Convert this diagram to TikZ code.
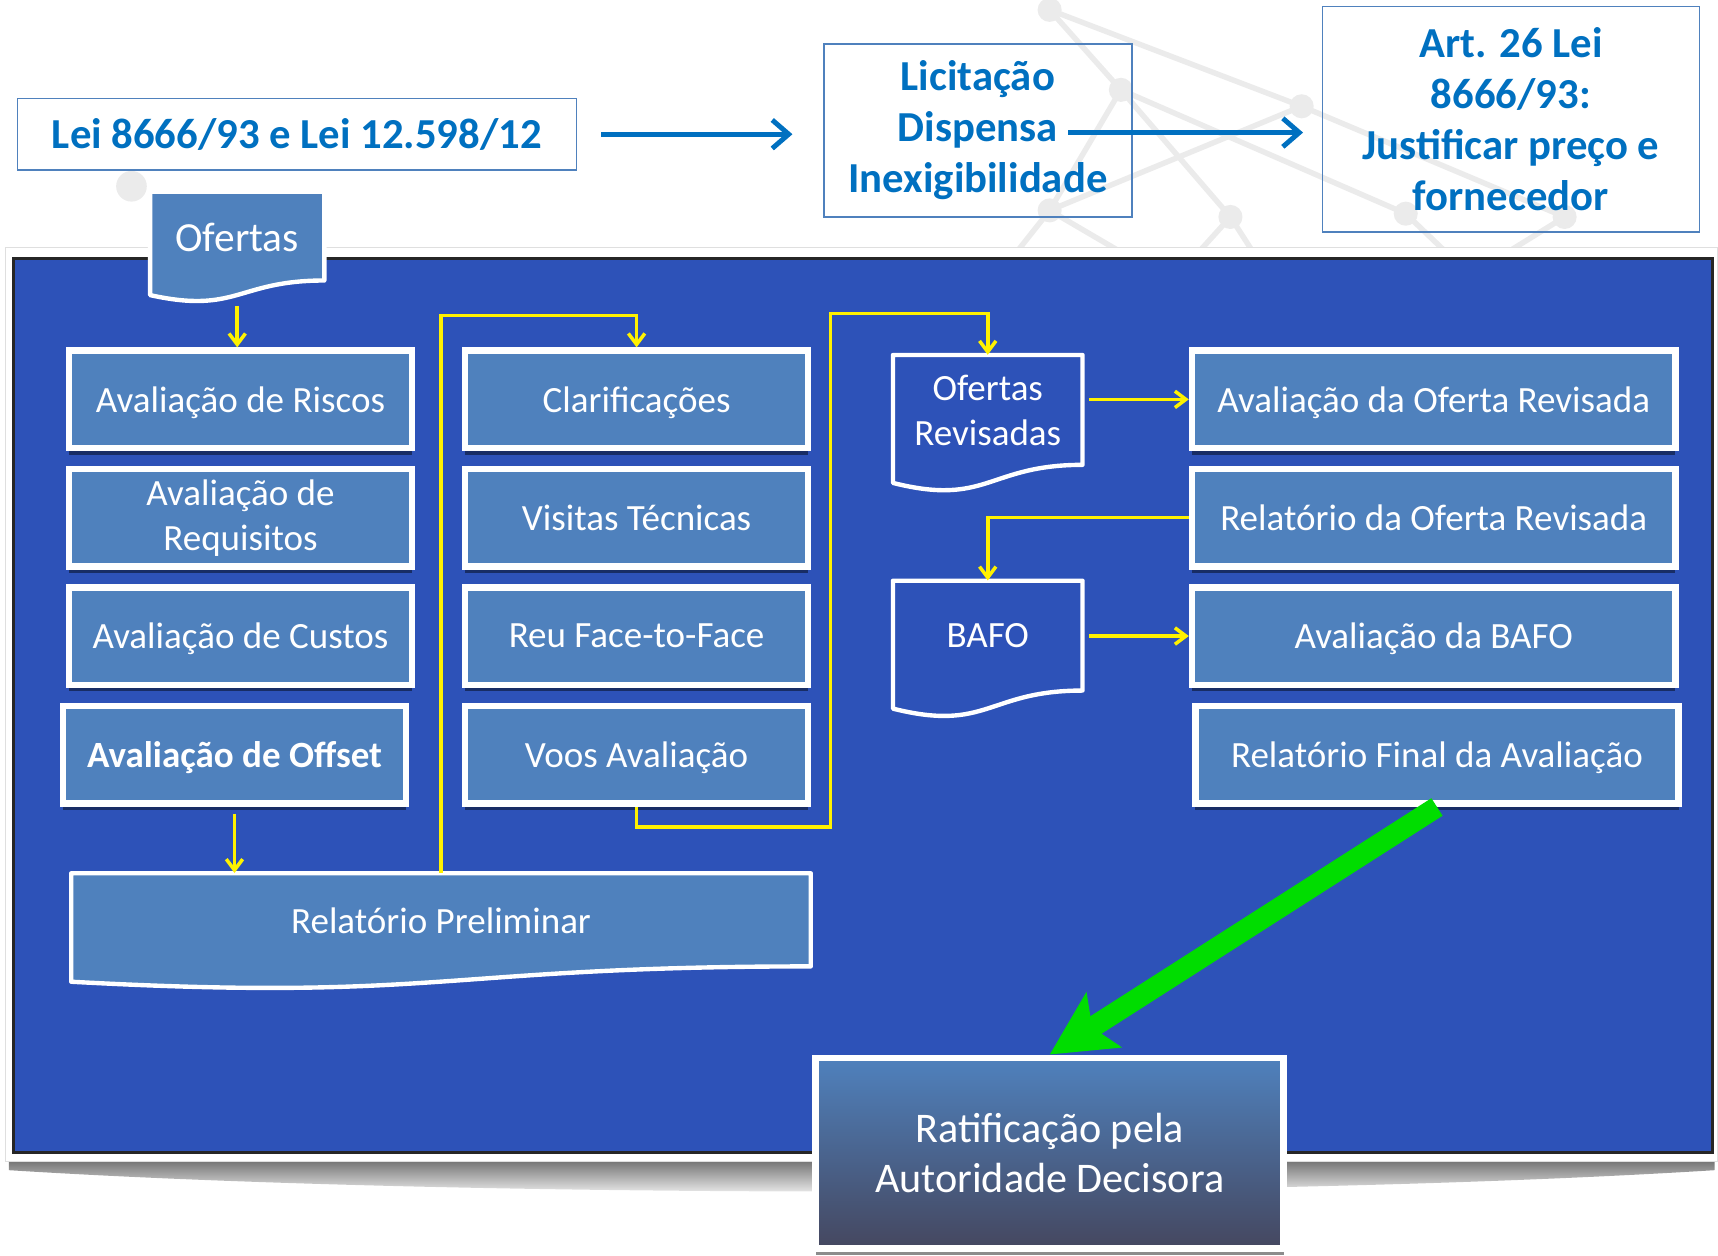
\documentclass[tikz,border=0pt]{standalone}
\usepackage{fontspec}
\setmainfont{Carlito}
\usetikzlibrary{arrows.meta,shadows}

\definecolor{painel}{HTML}{2D52B8}
\definecolor{azulcaixa}{HTML}{4F81BD}
\definecolor{azultexto}{HTML}{0070C0}
\definecolor{verdeseta}{HTML}{00DD00}
\definecolor{cinzaescuro}{HTML}{45475F}
\definecolor{marca}{HTML}{EBEBEB}

% forma de documento: estilo, x, y, largura, altura
\newcommand{\documento}[5]{%
	\filldraw[#1] (#2,#3) -- ({#2+#4},#3) -- ({#2+#4},{#3+0.802*#5})
		.. controls ({#2+0.5*#4},{#3+0.802*#5}) and ({#2+0.5*#4},{#3+1.1075*#5}) .. (#2,{#3+0.934*#5}) -- cycle;
}

\tikzset{
	lei/.style={rectangle, draw=azulcaixa, line width=1.5pt, text=azultexto, align=center, inner sep=0pt, font=\bfseries\fontsize{39}{46.5}\selectfont},
	caixa/.style={rectangle, draw=white, line width=6pt, fill=azulcaixa, text=white, align=center, inner sep=0pt, minimum width=313pt, minimum height=89pt, text depth=0pt, font=\fontsize{33.8}{41}\selectfont, drop shadow={shadow xshift=0pt, shadow yshift=-6pt, opacity=.45, fill=black}},
	larga/.style={caixa, minimum width=441pt},
	docforma/.style={draw=white, line width=4pt, line join=round},
	doctexto/.style={rectangle, inner sep=0pt, text=white, align=center, font=\fontsize{33.8}{41}\selectfont},
	seta/.style={draw=azultexto, line width=4.5pt, -{Straight Barb[length=15pt,width=26pt]}},
	amarela/.style={draw=yellow, line width=3.2pt, -{Straight Barb[length=10pt,width=15pt]}},
	setaverde/.style={draw=verdeseta, line width=19pt, -{Stealth[length=58pt,width=58pt,inset=12pt]}}
}

\begin{document}
\begin{tikzpicture}[x=1pt, y=-1pt]
	\useasboundingbox (0,0) rectangle (1568,1146);

	% marca d'agua
	\begin{scope}[draw=marca, line width=5pt]
		\draw (958,9) -- (1023,82) -- (1123,198) -- (1150,240);
		\draw (958,9) -- (1188,97) -- (1428,198) -- (1360,240);
		\draw (1023,82) -- (1283,195) -- (1330,240);
		\draw (958,192) -- (1188,97);
		\draw (1023,82) -- (958,192) -- (1040,240);
		\draw (958,192) -- (920,240);
		\draw (1123,198) -- (1085,240);
		\fill[marca] (958,9) circle (11) (1023,82) circle (11) (1188,97) circle (11)
			(1123,198) circle (11) (958,192) circle (11) (1283,195) circle (11) (1428,198) circle (11)
			(120,170) circle (14);
	\end{scope}

	% painel
	\shade[top color=black!60, bottom color=white] (8,1056) -- (1565,1056) -- (1565,1068) .. controls (1150,1094) and (420,1094) .. (8,1068) -- cycle;
	\filldraw[fill=white, draw=gray!25, line width=1pt] (5,226) rectangle (1568,1060);
	\filldraw[fill=painel, draw=black!85, line width=2.5pt] (12,236) rectangle (1563,1052);

	% topo
	\node[lei, minimum width=510pt, minimum height=65pt] (lei) at (271,122.5) {Lei 8666/93 e Lei 12.598/12};
	\node[lei, minimum width=281pt, minimum height=158pt] (lic) at (892.5,119) {Licitação\\Dispensa\\Inexigibilidade};
	\node[lei, minimum width=344pt, minimum height=206pt] (art) at (1379,109) {Art. 26 Lei\\8666/93:\\Justificar preço e\\fornecedor};
	\coordinate (licsaida) at (975,121);

	% documentos
	\documento{docforma, fill=azulcaixa}{137}{175}{159}{101}
	\node[doctexto, minimum width=159pt, minimum height=84pt, font=\fontsize{37.8}{45}\selectfont] (ofr) at (216.5,217) {Ofertas};
	\documento{docforma, fill=painel}{815}{324}{173}{125}
	\node[doctexto, minimum width=173pt, minimum height=101pt] (orev) at (901.5,374.5) {Ofertas\\Revisadas};
	\documento{docforma, fill=painel}{815}{530}{173}{125}
	\node[doctexto, minimum width=173pt, minimum height=100pt] (bafo) at (901.5,580) {BAFO};
	\documento{docforma, fill=azulcaixa}{65}{797}{675}{106}
	\node[doctexto, minimum width=675pt, minimum height=86pt] (relprel) at (402.5,840) {Relatório Preliminar};

	% caixas
	\node[caixa] (riscos) at (219.5,364.5) {Avaliação de Riscos};
	\node[caixa, text depth=] (requis) at (219.5,472.5) {Avaliação de\\Requisitos};
	\node[caixa] (custos) at (219.5,580.5) {Avaliação de Custos};
	\node[caixa, font=\bfseries\fontsize{33.8}{41}\selectfont] (offset) at (214,689) {Avaliação de Offset};
	\node[caixa] (clar) at (581,364.5) {Clarificações};
	\node[caixa] (visitas) at (581,472.5) {Visitas Técnicas};
	\node[caixa] (reu) at (581,580.5) {Reu Face-to-Face};
	\node[caixa] (voos) at (581,689) {Voos Avaliação};
	\node[larga] (aorev) at (1308.5,364.5) {Avaliação da Oferta Revisada};
	\node[larga] (rorev) at (1308.5,472.5) {Relatório da Oferta Revisada};
	\node[larga] (abafo) at (1308.5,580.5) {Avaliação da BAFO};
	\node[larga] (relfin) at (1311.5,689) {Relatório Final da Avaliação};
	\node[caixa, text depth=, minimum width=427pt, minimum height=174pt, top color=azulcaixa, bottom color=cinzaescuro, font=\fontsize{38.5}{46}\selectfont] (ratif) at (958,1052.5) {Ratificação pela\\Autoridade Decisora};

	\coordinate (clartopo) at (581,288);
	\coordinate (voosbaixo) at (758,755);
	\coordinate (orevtopo) at (901.5,286);

	% setas
	\draw[seta, shorten <=22pt, shorten >=28pt] (lei.east) -- (lei.east -| lic.west);
	\draw[seta, shorten >=17pt] (licsaida) -- (licsaida -| art.west);

	\draw[amarela, shorten <=20pt] (ofr.south) -- (ofr.south |- riscos.north);
	\draw[amarela, shorten <=6pt] (offset.south) -- (offset.south |- relprel.north);
	\draw[amarela] (relprel.north) |- (clartopo) -- (clar.north);
	\draw[amarela] (voos.south) |- (voosbaixo) |- (orevtopo) -- (orev.north);
	\draw[amarela, shorten <=6pt] (orev.east |- aorev.west) -- (aorev.west);
	\draw[amarela] (rorev.west) -| (bafo.north);
	\draw[amarela, shorten <=6pt] (bafo.east |- abafo.west) -- (abafo.west);

	\draw[setaverde] (relfin.south) -- (ratif.north);
\end{tikzpicture}
\end{document}
